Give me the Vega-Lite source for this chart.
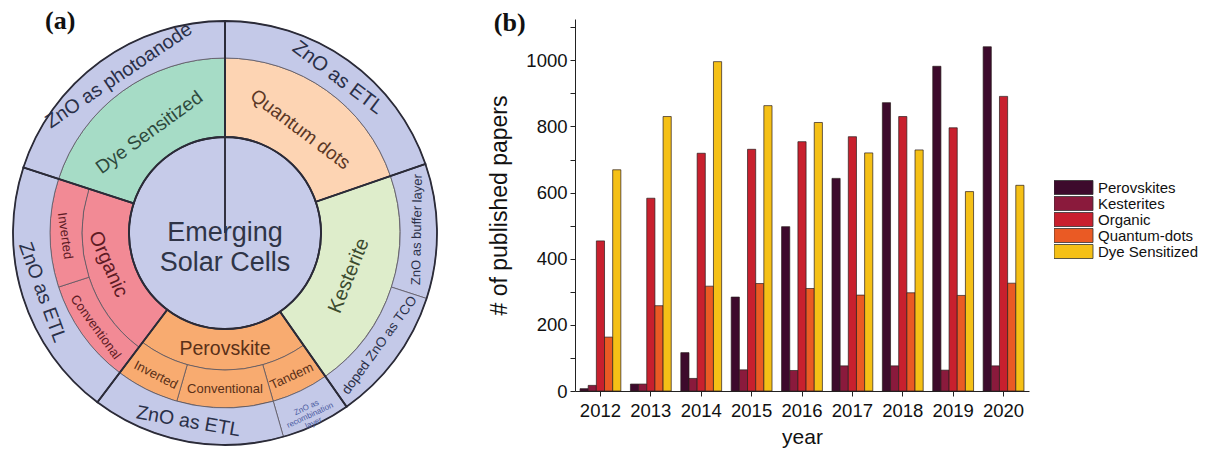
{
  "$schema": "https://vega.github.io/schema/vega-lite/v6.json",
  "background": "white",
  "padding": {"left": 0, "top": 8, "right": 0, "bottom": 0},
  "spacing": 38,
  "config": {
    "view": {"stroke": null},
    "font": "Liberation Sans",
    "axis": {"labelFont": "Liberation Sans", "titleFont": "Liberation Sans", "labelColor": "#111", "titleColor": "#111", "domainColor": "#222", "tickColor": "#222", "titleFontWeight": "normal"},
    "legend": {"labelFont": "Liberation Sans", "labelColor": "#111"},
    "title": {"font": "Liberation Serif", "fontWeight": "bold", "fontSize": 26, "color": "#111", "anchor": "start", "frame": "bounds", "baseline": "alphabetic", "offset": -12, "dy": 5}
  },
  "datasets": {
    "parts": [
      {"part": "core", "t0": 0, "t1": 360, "r0": 0, "r1": 96},
      {"part": "Dye Sensitized", "t0": 288, "t1": 360, "r0": 96, "r1": 175},
      {"part": "Quantum dots", "t0": 0, "t1": 71, "r0": 96, "r1": 175},
      {"part": "Kesterite", "t0": 71, "t1": 145, "r0": 96, "r1": 175},
      {"part": "Perovskite", "t0": 145, "t1": 217, "r0": 96, "r1": 137},
      {"part": "Perovskite", "t0": 145, "t1": 164, "r0": 137, "r1": 175},
      {"part": "Perovskite", "t0": 164, "t1": 196, "r0": 137, "r1": 175},
      {"part": "Perovskite", "t0": 196, "t1": 217, "r0": 137, "r1": 175},
      {"part": "Organic", "t0": 217, "t1": 288, "r0": 96, "r1": 143},
      {"part": "Organic", "t0": 217, "t1": 252, "r0": 143, "r1": 175},
      {"part": "Organic", "t0": 252, "t1": 288, "r0": 143, "r1": 175},
      {"part": "ZnO", "t0": 0, "t1": 71, "r0": 175, "r1": 212},
      {"part": "ZnO", "t0": 71, "t1": 108, "r0": 175, "r1": 212},
      {"part": "ZnO", "t0": 108, "t1": 145, "r0": 175, "r1": 212},
      {"part": "ZnO", "t0": 145, "t1": 164, "r0": 175, "r1": 212},
      {"part": "ZnO", "t0": 164, "t1": 217, "r0": 175, "r1": 212},
      {"part": "ZnO", "t0": 217, "t1": 288, "r0": 175, "r1": 212},
      {"part": "ZnO", "t0": 288, "t1": 360, "r0": 175, "r1": 212}
    ],
    "sectors": [
      {"t0": 0, "t1": 71, "r0": 96, "r1": 212},
      {"t0": 71, "t1": 145, "r0": 96, "r1": 212},
      {"t0": 145, "t1": 217, "r0": 96, "r1": 212},
      {"t0": 217, "t1": 288, "r0": 96, "r1": 212},
      {"t0": 288, "t1": 360, "r0": 96, "r1": 212},
      {"t0": 0, "t1": 360, "r0": 0, "r1": 96}
    ],
    "papers": [
      {"year": "2012", "type": "Perovskites", "papers": 7},
      {"year": "2012", "type": "Kesterites", "papers": 17},
      {"year": "2012", "type": "Organic", "papers": 454},
      {"year": "2012", "type": "Quantum-dots", "papers": 163},
      {"year": "2012", "type": "Dye Sensitized", "papers": 669},
      {"year": "2013", "type": "Perovskites", "papers": 21},
      {"year": "2013", "type": "Kesterites", "papers": 21},
      {"year": "2013", "type": "Organic", "papers": 583},
      {"year": "2013", "type": "Quantum-dots", "papers": 258},
      {"year": "2013", "type": "Dye Sensitized", "papers": 830},
      {"year": "2014", "type": "Perovskites", "papers": 116},
      {"year": "2014", "type": "Kesterites", "papers": 38},
      {"year": "2014", "type": "Organic", "papers": 719},
      {"year": "2014", "type": "Quantum-dots", "papers": 317},
      {"year": "2014", "type": "Dye Sensitized", "papers": 996},
      {"year": "2015", "type": "Perovskites", "papers": 284},
      {"year": "2015", "type": "Kesterites", "papers": 64},
      {"year": "2015", "type": "Organic", "papers": 731},
      {"year": "2015", "type": "Quantum-dots", "papers": 325},
      {"year": "2015", "type": "Dye Sensitized", "papers": 863},
      {"year": "2016", "type": "Perovskites", "papers": 497},
      {"year": "2016", "type": "Kesterites", "papers": 62},
      {"year": "2016", "type": "Organic", "papers": 754},
      {"year": "2016", "type": "Quantum-dots", "papers": 310},
      {"year": "2016", "type": "Dye Sensitized", "papers": 812},
      {"year": "2017", "type": "Perovskites", "papers": 643},
      {"year": "2017", "type": "Kesterites", "papers": 76},
      {"year": "2017", "type": "Organic", "papers": 769},
      {"year": "2017", "type": "Quantum-dots", "papers": 290},
      {"year": "2017", "type": "Dye Sensitized", "papers": 720},
      {"year": "2018", "type": "Perovskites", "papers": 872},
      {"year": "2018", "type": "Kesterites", "papers": 76},
      {"year": "2018", "type": "Organic", "papers": 830},
      {"year": "2018", "type": "Quantum-dots", "papers": 297},
      {"year": "2018", "type": "Dye Sensitized", "papers": 729},
      {"year": "2019", "type": "Perovskites", "papers": 982},
      {"year": "2019", "type": "Kesterites", "papers": 63},
      {"year": "2019", "type": "Organic", "papers": 796},
      {"year": "2019", "type": "Quantum-dots", "papers": 289},
      {"year": "2019", "type": "Dye Sensitized", "papers": 603},
      {"year": "2020", "type": "Perovskites", "papers": 1041},
      {"year": "2020", "type": "Kesterites", "papers": 76},
      {"year": "2020", "type": "Organic", "papers": 891},
      {"year": "2020", "type": "Quantum-dots", "papers": 326},
      {"year": "2020", "type": "Dye Sensitized", "papers": 622}
    ]
  },
  "resolve": {"scale": {"color": "independent"}, "legend": {"color": "independent"}},
  "hconcat": [
    {
      "width": 450,
      "height": 428,
      "title": {"text": "(a)", "dx": 45},
      "encoding": {
        "theta": {"field": "t0", "type": "quantitative", "stack": null, "scale": {"type": "linear", "domain": [0, 360], "range": [0, 6.283185307], "nice": false, "zero": true}},
        "radius": {"field": "r0", "type": "quantitative", "scale": {"type": "linear", "domain": [0, 212], "range": [0, 212], "nice": false, "zero": true}}
      },
      "layer": [
        {
          "data": {"name": "parts"},
          "mark": {"type": "arc", "stroke": "#5a5560", "strokeWidth": 0.8},
          "encoding": {
            "theta2": {"field": "t1"},
            "radius2": {"field": "r1"},
            "color": {"field": "part", "type": "nominal", "legend": null,
              "scale": {"domain": ["core", "ZnO", "Dye Sensitized", "Quantum dots", "Kesterite", "Perovskite", "Organic"],
                        "range": ["#c6cbe9", "#c4c9e8", "#a6dcc6", "#fdd4b3", "#deedcb", "#f8ab70", "#f28a95"]}}
          }
        },
        {
          "data": {"name": "sectors"},
          "mark": {"type": "arc", "fill": "white", "fillOpacity": 0, "stroke": "#2b2b38", "strokeWidth": 1.8},
          "encoding": {"theta2": {"field": "t1"}, "radius2": {"field": "r1"}}
        },
        {"data": {"values": [{"label": "Emerging\nSolar Cells", "t0": 0, "r0": 0}]},
         "mark": {"type": "text", "lineBreak": "\n", "fontSize": 27, "lineHeight": 30, "color": "#2f3447"},
         "encoding": {"text": {"field": "label"}}},
        {"data": {"values": [{"label": "Dye Sensitized", "t0": 323, "r0": 126}]},
         "mark": {"type": "text", "angle": -36, "fontSize": 19, "color": "#2e4a3d"},
         "encoding": {"text": {"field": "label"}}},
        {"data": {"values": [{"label": "Quantum dots", "t0": 36, "r0": 128}]},
         "mark": {"type": "text", "angle": 37, "fontSize": 19, "color": "#5b3826"},
         "encoding": {"text": {"field": "label"}}},
        {"data": {"values": [{"label": "Kesterite", "t0": 109, "r0": 131}]},
         "mark": {"type": "text", "angle": -68, "fontSize": 20, "color": "#3b4a2e"},
         "encoding": {"text": {"field": "label"}}},
        {"data": {"values": [{"label": "Perovskite", "t0": 180, "r0": 116}]},
         "mark": {"type": "text", "angle": 0, "fontSize": 19.5, "color": "#5a3018"},
         "encoding": {"text": {"field": "label"}}},
        {"data": {"values": [{"label": "Organic", "t0": 255, "r0": 121}]},
         "mark": {"type": "text", "angle": 66, "fontSize": 20, "color": "#5e1a24"},
         "encoding": {"text": {"field": "label"}}},
        {"data": {"values": [{"label": "Inverted", "t0": 269, "r0": 160}]},
         "mark": {"type": "text", "angle": 82, "fontSize": 13, "color": "#5e1a24"},
         "encoding": {"text": {"field": "label"}}},
        {"data": {"values": [{"label": "Conventional", "t0": 234, "r0": 160}]},
         "mark": {"type": "text", "angle": 54, "fontSize": 13, "color": "#5e1a24"},
         "encoding": {"text": {"field": "label"}}},
        {"data": {"values": [{"label": "Inverted", "t0": 206, "r0": 158}]},
         "mark": {"type": "text", "angle": 27, "fontSize": 13, "color": "#5a3018"},
         "encoding": {"text": {"field": "label"}}},
        {"data": {"values": [{"label": "Conventional", "t0": 180, "r0": 156}]},
         "mark": {"type": "text", "angle": 0, "fontSize": 13, "color": "#5a3018"},
         "encoding": {"text": {"field": "label"}}},
        {"data": {"values": [{"label": "Tandem", "t0": 155, "r0": 158}]},
         "mark": {"type": "text", "angle": -25, "fontSize": 13, "color": "#5a3018"},
         "encoding": {"text": {"field": "label"}}},
        {"data": {"values": [{"label": "ZnO as photoanode", "t0": 326, "r0": 190}]},
         "mark": {"type": "text", "angle": -34, "fontSize": 19.5, "color": "#2a3048"},
         "encoding": {"text": {"field": "label"}}},
        {"data": {"values": [{"label": "ZnO as ETL", "t0": 36, "r0": 192}]},
         "mark": {"type": "text", "angle": 37, "fontSize": 20, "color": "#2a3048"},
         "encoding": {"text": {"field": "label"}}},
        {"data": {"values": [{"label": "ZnO as buffer layer", "t0": 89, "r0": 192}]},
         "mark": {"type": "text", "angle": -89, "fontSize": 13, "color": "#2a3048"},
         "encoding": {"text": {"field": "label"}}},
        {"data": {"values": [{"label": "doped ZnO as TCO", "t0": 126, "r0": 191}]},
         "mark": {"type": "text", "angle": -54, "fontSize": 13.5, "color": "#2a3048"},
         "encoding": {"text": {"field": "label"}}},
        {"data": {"values": [{"label": "ZnO as\nrecombination\nlayer", "t0": 155, "r0": 193}]},
         "mark": {"type": "text", "angle": -25, "fontSize": 8, "lineBreak": "\n", "lineHeight": 8.5, "color": "#4a5aa0"},
         "encoding": {"text": {"field": "label"}}},
        {"data": {"values": [{"label": "ZnO as ETL", "t0": 191, "r0": 192}]},
         "mark": {"type": "text", "angle": 10, "fontSize": 19.5, "color": "#2a3048"},
         "encoding": {"text": {"field": "label"}}},
        {"data": {"values": [{"label": "ZnO as ETL", "t0": 252, "r0": 192}]},
         "mark": {"type": "text", "angle": 70, "fontSize": 19.5, "color": "#2a3048"},
         "encoding": {"text": {"field": "label"}}}
      ]
    },
    {
      "width": 454,
      "height": 372,
      "title": {"text": "(b)", "dx": 5},
      "data": {"name": "papers"},
      "mark": {"type": "bar", "stroke": "#2a1c1c", "strokeWidth": 0.7},
      "encoding": {
        "x": {"field": "year", "type": "ordinal", "title": "year",
              "scale": {"paddingInner": 0.19, "paddingOuter": 0.1},
              "axis": {"labelAngle": 0, "labelFontSize": 18.5, "titleFontSize": 21, "tickSize": 5, "labelPadding": 5, "titlePadding": 7}},
        "xOffset": {"field": "type", "type": "nominal", "sort": ["Perovskites", "Kesterites", "Organic", "Quantum-dots", "Dye Sensitized"]},
        "y": {"field": "papers", "type": "quantitative", "title": "# of published papers",
              "scale": {"domain": [0, 1125], "nice": false},
              "axis": {"values": [0, 100, 200, 300, 400, 500, 600, 700, 800, 900, 1000, 1100], "format": "d",
                       "labelExpr": "datum.value % 200 === 0 ? datum.label : ''",
                       "grid": false, "labelFontSize": 18.5, "titleFontSize": 23, "tickSize": 5, "labelPadding": 3, "titlePadding": 14}},
        "color": {"field": "type", "type": "nominal", "sort": ["Perovskites", "Kesterites", "Organic", "Quantum-dots", "Dye Sensitized"],
                  "scale": {"domain": ["Perovskites", "Kesterites", "Organic", "Quantum-dots", "Dye Sensitized"],
                            "range": ["#3d0a2c", "#8a1a3c", "#c8202e", "#ea5a24", "#f5c016"]},
                  "legend": {"title": null, "orient": "none", "legendX": 479, "legendY": 161, "labelFontSize": 15,
                             "symbolType": "M-1.0714,-1H4.5V1H-1.0714Z", "symbolSize": 196, "symbolStrokeColor": "#333", "symbolStrokeWidth": 0.8,
                             "rowPadding": 0, "labelOffset": 29, "clipHeight": 15}}
      }
    }
  ]
}
